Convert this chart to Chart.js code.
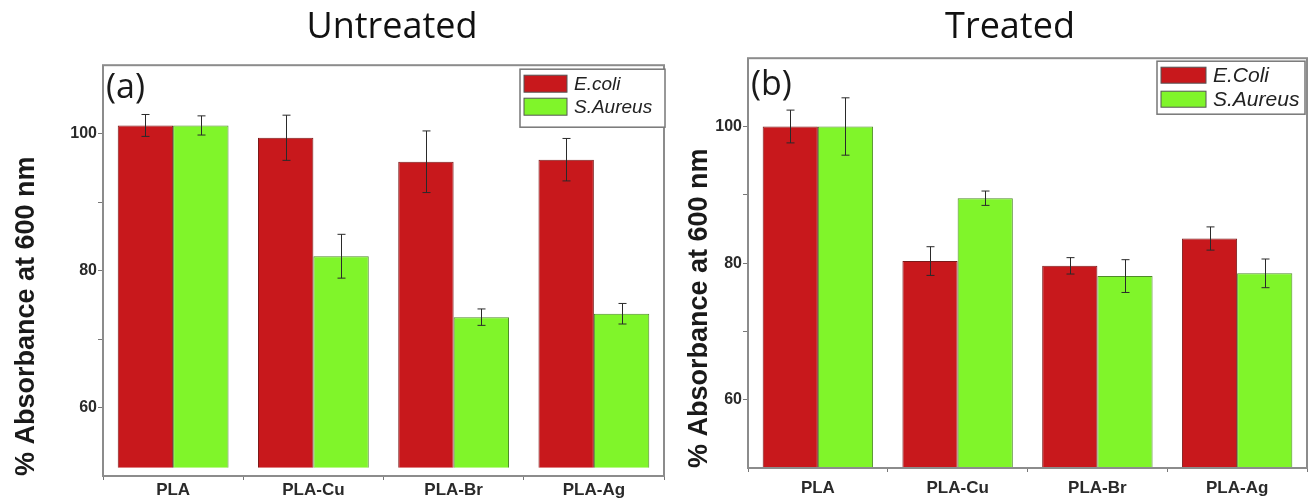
<!DOCTYPE html>
<html>
<head>
<meta charset="utf-8">
<script src="https://cdn.jsdelivr.net/npm/chart.js@4.4.1/dist/chart.umd.min.js"></script>
<style>
  body { margin: 0; background: #fff; overflow: hidden; width: 1314px; height: 499px; position: relative; }
  .panel { position: absolute; top: 0; height: 499px; }
  #wrapA { left: 0; width: 784px; }
  #wrapB { left: 660px; width: 700px; }
</style>
</head>
<body>
<div class="panel" id="wrapA"><canvas id="chartA" width="784" height="499"></canvas></div>
<div class="panel" id="wrapB"><canvas id="chartB" width="700" height="499"></canvas></div>
<script>
// data
var categories = ['PLA', 'PLA-Cu', 'PLA-Br', 'PLA-Ag'];

var untreatedEcoli = [101.2, 99.4, 95.9, 96.2];
var untreatedEcoliErr = [1.6, 3.3, 4.5, 3.1];
var untreatedSaureus = [101.2, 82.1, 73.2, 73.7];
var untreatedSaureusErr = [1.4, 3.2, 1.2, 1.5];

var treatedEcoli = [100, 80.3, 79.6, 83.6];
var treatedEcoliErr = [2.4, 2.1, 1.2, 1.7];
var treatedSaureus = [100, 89.5, 78.1, 78.5];
var treatedSaureusErr = [4.2, 1.05, 2.4, 2.1];

var yTicks = [60, 70, 80, 90, 100];
var yLabelTicks = [60, 80, 100];

var RED = '#c8181c';
var GREEN = '#80f52a';

// error bars on top of each bar
var errorBars = {
    id: 'errorBars',
    afterDatasetsDraw: function (chart) {
        var ctx = chart.ctx;
        var y = chart.scales.y;
        ctx.save();
        ctx.strokeStyle = '#2a2a2a';
        ctx.lineWidth = 1;
        chart.data.datasets.forEach(function (ds, i) {
            var meta = chart.getDatasetMeta(i);
            meta.data.forEach(function (bar, j) {
                var v = ds.data[j], e = ds.errors[j];
                var top = y.getPixelForValue(v + e);
                var bot = y.getPixelForValue(v - e);
                var x = Math.round(bar.x) + 0.5;
                ctx.beginPath();
                ctx.moveTo(x, top); ctx.lineTo(x, bot);
                ctx.moveTo(x - 4, top); ctx.lineTo(x + 4, top);
                ctx.moveTo(x - 4, bot); ctx.lineTo(x + 4, bot);
                ctx.stroke();
            });
        });
        ctx.restore();
    }
};

// box frame, legend box and panel letter
var decorations = {
    id: 'decorations',
    afterDraw: function (chart, args, opts) {
        var ctx = chart.ctx;
        var a = chart.chartArea;
        ctx.save();
        ctx.strokeStyle = '#8c8c8c';
        ctx.lineWidth = 2;
        ctx.strokeRect(a.left, a.top, a.right - a.left, a.bottom - a.top);

        // panel letter
        ctx.fillStyle = '#1a1a1a';
        ctx.font = '34px "Open Sans"';
        ctx.textBaseline = 'middle';
        ctx.textAlign = 'left';
        ctx.fillText(opts.letter, a.left + opts.letterDx, a.top + opts.letterDy);

        // legend
        var bx = a.right - opts.boxRight - opts.boxW;
        var by = a.top + opts.boxTop;
        ctx.fillStyle = '#fff';
        ctx.fillRect(bx, by, opts.boxW, opts.boxH);
        ctx.strokeStyle = '#777';
        ctx.lineWidth = 1.5;
        ctx.strokeRect(bx, by, opts.boxW, opts.boxH);
        ctx.font = 'italic ' + opts.fontSize + 'px "Liberation Sans"';
        chart.data.datasets.forEach(function (ds, i) {
            var sy = by + opts.rowTop + i * opts.rowGap;
            ctx.fillStyle = ds.backgroundColor;
            ctx.fillRect(bx + 4, sy, opts.swW, opts.swH);
            ctx.strokeStyle = '#555';
            ctx.lineWidth = 1;
            ctx.strokeRect(bx + 4, sy, opts.swW, opts.swH);
            ctx.fillStyle = '#222';
            ctx.fillText(ds.label, bx + opts.swW + 11, sy + opts.swH / 2 + 1);
        });
        ctx.restore();
    }
};

function makeChart(id, cfg) {
    var ctx = document.getElementById(id).getContext('2d');
    return new Chart(ctx, {
        type: 'bar',
        data: {
            labels: categories,
            datasets: [{
                label: cfg.labels[0],
                data: cfg.ecoli,
                errors: cfg.ecoliErr,
                backgroundColor: RED,
                borderColor: '#7a1a1a',
                borderWidth: 1,
                base: cfg.base
            }, {
                label: cfg.labels[1],
                data: cfg.saureus,
                errors: cfg.saureusErr,
                backgroundColor: GREEN,
                borderColor: '#4f8a2a',
                borderWidth: 1,
                base: cfg.base
            }]
        },
        plugins: [errorBars, decorations],
        options: {
            responsive: false,
            animation: false,
            categoryPercentage: 0.79,
            barPercentage: 1.0,
            layout: { padding: 0 },
            scales: {
                x: {
                    grid: { offset: true, drawOnChartArea: false, tickLength: 4, color: '#777' },
                    border: { display: false },
                    ticks: {
                        color: '#2a2a2a',
                        padding: cfg.xPad,
                        font: { family: '"Liberation Sans"', size: 17, weight: 'bold' }
                    },
                    afterFit: function (s) { s.height = cfg.xHeight; }
                },
                y: {
                    min: 50,
                    max: 110,
                    afterBuildTicks: function (s) {
                        s.ticks = yTicks.map(function (v) { return { value: v }; });
                    },
                    grid: { drawOnChartArea: false, tickLength: 5, color: '#777' },
                    border: { display: false },
                    ticks: {
                        color: '#2a2a2a',
                        padding: 1,
                        font: { family: '"Liberation Sans"', size: 16, weight: 'bold' },
                        callback: function (v) { return yLabelTicks.indexOf(v) >= 0 ? v : ''; }
                    },
                    title: {
                        display: true,
                        text: '% Absorbance at 600 nm',
                        align: 'start',
                        color: '#1a1a1a',
                        padding: { top: cfg.yTitlePad, bottom: 0 },
                        font: { family: '"Liberation Sans"', size: 27, weight: 'bold' }
                    },
                    afterFit: function (s) { s.width = cfg.yWidth; }
                },
                // empty right-hand space so the title stays centred on the whole panel
                spacer: {
                    type: 'linear',
                    position: 'right',
                    grid: { display: false },
                    border: { display: false },
                    ticks: { display: false },
                    afterFit: function (s) { s.width = cfg.padRight; }
                }
            },
            plugins: {
                legend: { display: false },
                tooltip: { enabled: false },
                title: {
                    display: true,
                    text: cfg.title,
                    color: '#111',
                    font: { family: '"Open Sans"', size: 36, weight: 'normal' },
                    padding: { top: 6, bottom: cfg.titleBottom }
                },
                decorations: cfg.deco
            }
        }
    });
}

makeChart('chartA', {
    title: 'Untreated',
    labels: ['E.coli', 'S.Aureus'],
    ecoli: untreatedEcoli, ecoliErr: untreatedEcoliErr,
    saureus: untreatedSaureus, saureusErr: untreatedSaureusErr,
    base: 51.2,
    padRight: 120, yWidth: 103, xHeight: 23, xPad: 0,
    yTitlePad: 10, titleBottom: 16,
    deco: { letter: '(a)', letterDx: 3, letterDy: 23,
            boxRight: -1, boxTop: 4, boxW: 145, boxH: 58,
            rowTop: 6, rowGap: 23, swW: 43, swH: 17, fontSize: 19 }
});

makeChart('chartB', {
    title: 'Treated',
    labels: ['E.Coli', 'S.Aureus'],
    ecoli: treatedEcoli, ecoliErr: treatedEcoliErr,
    saureus: treatedSaureus, saureusErr: treatedSaureusErr,
    base: 50,
    padRight: 53, yWidth: 88, xHeight: 31, xPad: 6,
    yTitlePad: 23, titleBottom: 9,
    deco: { letter: '(b)', letterDx: 3, letterDy: 27,
            boxRight: 2, boxTop: 3, boxW: 148, boxH: 53,
            rowTop: 6, rowGap: 24, swW: 45, swH: 16, fontSize: 21 }
});
</script>
</body>
</html>
